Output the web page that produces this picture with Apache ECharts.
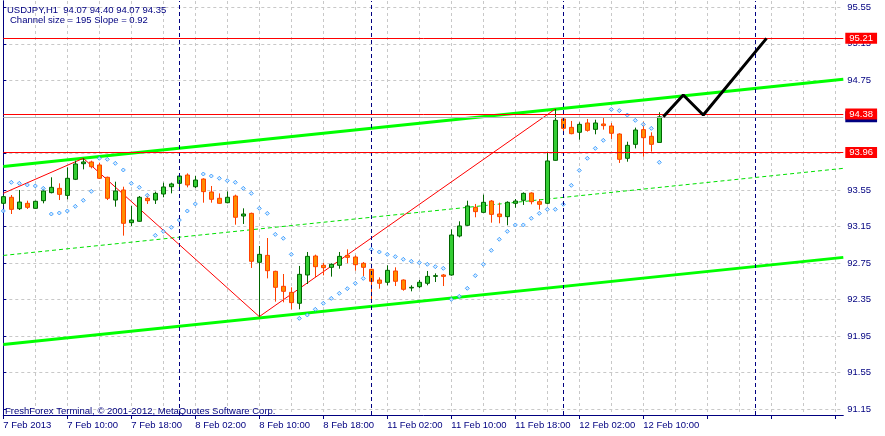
<!DOCTYPE html>
<html>
<head>
<meta charset="utf-8">
<script src="https://cdn.jsdelivr.net/npm/echarts@6/dist/echarts.min.js"></script>
<style>
  html, body { margin: 0; padding: 0; background: #fff; }
  #chart { width: 885px; height: 436px; }
</style>
</head>
<body>
<div id="chart"></div>
<script>
// USDJPY H1 bars, 7 Feb 02:00 .. 12 Feb 12:00
var opens = [93.403,93.469,93.344,93.403,93.348,93.432,93.520,93.567,93.490,93.666,93.837,93.856,93.823,93.688,93.439,93.549,93.191,93.206,93.458,93.439,93.505,93.585,
  93.622,93.713,93.585,93.669,93.527,93.458,93.410,93.483,93.264,93.293,92.757,92.833,92.658,92.494,92.428,92.308,92.618,92.826,92.724,92.702,92.724,
  92.833,92.815,92.746,92.680,92.563,92.538,92.662,92.563,92.476,92.490,92.527,92.603,92.618,92.618,93.045,93.162,93.359,93.304,93.428,93.286,93.257,
  93.403,93.436,93.516,93.421,93.403,93.874,94.327,94.235,94.181,94.283,94.213,94.272,94.250,94.162,93.896,94.049,94.210,94.137,94.07];
var closes = [93.476,93.337,93.417,93.359,93.425,93.538,93.578,93.501,93.677,93.834,93.856,93.804,93.677,93.458,93.538,93.184,93.220,93.469,93.432,93.512,93.582,93.615,
  93.702,93.604,93.658,93.531,93.447,93.403,93.469,93.250,93.286,92.768,92.844,92.665,92.483,92.439,92.315,92.625,92.822,92.709,92.698,92.735,92.822,
  92.811,92.731,92.702,92.549,92.527,92.669,92.549,92.461,92.483,92.538,92.603,92.611,92.603,93.056,93.155,93.374,93.312,93.414,93.282,93.257,93.414,
  93.428,93.512,93.421,93.392,93.867,94.312,94.224,94.166,94.268,94.202,94.283,94.254,94.170,93.885,94.038,94.206,94.122,94.049,94.35];
var lows = [93.385,93.286,93.330,93.341,93.344,93.403,93.512,93.439,93.447,93.658,93.775,93.786,93.669,93.439,93.366,93.049,93.155,93.202,93.396,93.396,93.469,93.512,
  93.542,93.578,93.571,93.410,93.410,93.399,93.403,93.169,93.177,92.695,92.162,92.581,92.326,92.319,92.242,92.242,92.519,92.592,92.614,92.600,92.687,
  92.746,92.665,92.607,92.351,92.468,92.505,92.497,92.446,92.439,92.472,92.505,92.541,92.497,92.610,93.030,93.155,93.250,93.301,93.191,93.184,93.162,
  93.355,93.385,93.392,93.334,93.392,93.870,94.159,94.159,94.100,94.188,94.159,94.210,94.108,93.845,93.859,94.005,93.914,93.969,94.07];
var highs = [93.494,93.494,93.549,93.432,93.432,93.567,93.688,93.622,93.797,93.870,93.896,93.870,93.848,93.695,93.640,93.585,93.374,93.483,93.505,93.531,93.629,93.629,
  93.731,93.731,93.702,93.677,93.593,93.512,93.534,93.498,93.348,93.301,92.936,93.023,92.665,92.629,92.483,92.717,92.870,92.841,92.753,92.746,92.870,
  92.899,92.833,92.760,92.687,92.592,92.724,92.702,92.570,92.505,92.563,92.662,92.636,92.629,93.118,93.206,93.432,93.396,93.498,93.439,93.410,93.425,
  93.450,93.523,93.523,93.450,93.961,94.436,94.341,94.305,94.290,94.327,94.319,94.348,94.283,94.170,94.078,94.232,94.297,94.181,94.40];
// parabolic SAR
var sar = [93.319,93.633,93.622,93.604,93.593,93.567,93.286,93.297,93.319,93.370,93.436,93.534,93.896,93.885,93.841,93.768,93.622,93.578,93.491,93.052,93.096,93.140,
  93.220,93.319,93.396,93.724,93.702,93.677,93.651,93.633,93.567,93.512,93.348,93.293,93.063,93.020,92.844,92.143,92.180,92.242,92.308,92.362,92.417,
  92.468,92.527,92.581,92.899,92.870,92.844,92.819,92.790,92.768,92.753,92.735,92.709,92.691,92.351,92.384,92.472,92.611,92.735,92.888,93.009,93.096,
  93.166,93.166,93.239,93.293,93.337,93.337,93.392,93.600,93.764,93.896,94.005,94.093,94.432,94.418,94.370,94.312,94.268,94.224,93.852];

var dayNames = ['7 Feb', '8 Feb', '11 Feb', '12 Feb', '13 Feb'];
var firstHour = 2;
var slotCount = 106; // bars + empty future area
var yTicks = [91.15, 91.55, 91.95, 92.35, 92.75, 93.15, 93.55, 93.95, 94.35, 94.75, 95.15, 95.55];

// regression channel [bar, price]
var channelUpper = [[0, 93.806], [105, 94.761]];
var channelMiddle = [[0, 92.832], [105, 93.786]];
var channelLower = [[0, 91.857], [105, 92.811]];
var zigzag = [[0, 93.513], [10, 93.896], [32, 92.162], [69, 94.436]];
var forecast = [[82.5, 94.35], [85, 94.59], [87.5, 94.37], [95.4, 95.21]];
var levels = [95.21, 94.38, 93.96];
var bidPrice = 94.35;

var NAVY = '#000080';
var FONT = 'Liberation Sans';

// categories by hour
var categories = [];
var d = 0, h = firstHour;
for (var i = 0; i < slotCount; i++) {
  categories.push(dayNames[d] + ' ' + (h < 10 ? '0' + h : h) + ':00');
  h++;
  if (h === 24) { h = 0; d++; }
}
var daySeps = [];
categories.forEach(function (c, idx) { if (/ 00:00$/.test(c)) daySeps.push(idx); });

var candles = opens.map(function (o, k) { return [o, closes[k], lows[k], highs[k]]; });

var txt = { color: NAVY, fontSize: 9.5, fontWeight: 'normal', fontFamily: FONT };

var chart = echarts.init(document.getElementById('chart'));
chart.setOption({
  animation: false,
  backgroundColor: '#ffffff',
  textStyle: { fontFamily: FONT },
  title: [
    { text: 'USDJPY,H1  94.07 94.40 94.07 94.35', left: 7, top: 5, padding: 0, textStyle: txt },
    { text: 'Channel size = 195 Slope = 0.92', left: 10, top: 15, padding: 0, textStyle: txt },
    { text: 'FreshForex Terminal, \u00a9 2001-2012, MetaQuotes Software Corp.', left: 5, top: 406, padding: 0, textStyle: txt }
  ],
  grid: { left: 3.3, right: 41.7, top: 1, bottom: 21 },
  xAxis: [
    {
      type: 'category', data: categories, boundaryGap: false,
      axisLine: { lineStyle: { color: NAVY, width: 1 } },
      axisTick: { interval: 7, length: 4, lineStyle: { color: NAVY } },
      axisLabel: {
        interval: 7, align: 'left', margin: 5, color: NAVY, fontSize: 9.5, fontFamily: FONT,
        formatter: function (v, idx) { return idx === 0 ? '7 Feb 2013' : (idx < opens.length ? v : ''); }
      },
      splitLine: { show: true, interval: 3, lineStyle: { color: '#c8c8c8', type: [3, 3] } }
    },
    { type: 'value', min: 0, max: slotCount - 1, show: false }
  ],
  yAxis: [
    {
      type: 'value', position: 'right', min: 91.0845, max: 95.619, scale: true,
      axisLine: { show: true, lineStyle: { color: NAVY } },
      axisTick: { show: true, length: 3, customValues: yTicks, lineStyle: { color: NAVY } },
      axisLabel: { customValues: yTicks, margin: 4, color: NAVY, fontSize: 9.5, fontFamily: FONT,
        formatter: function (v) { return v.toFixed(2); } },
      splitLine: { show: true, lineStyle: { color: '#c8c8c8', type: [3, 3] } }
    },
    {
      type: 'value', position: 'left', min: 91.0845, max: 95.619,
      axisLine: { show: true, lineStyle: { color: NAVY } },
      axisTick: { show: false }, axisLabel: { show: false }, splitLine: { show: false }
    }
  ],
  series: [
    {
      type: 'line', xAxisIndex: 1, data: channelMiddle, symbol: 'none', z: 1,
      lineStyle: { color: '#00e000', width: 1, type: [4, 3] },
      markLine: {
        silent: true, symbol: 'none', label: { show: false },
        lineStyle: { color: NAVY, width: 1, type: [4, 3] },
        data: daySeps.map(function (s) { return { xAxis: s }; })
      }
    },
    { type: 'line', xAxisIndex: 1, data: channelUpper, symbol: 'none', z: 1,
      lineStyle: { color: '#00ff00', width: 3 } },
    { type: 'line', xAxisIndex: 1, data: channelLower, symbol: 'none', z: 1,
      lineStyle: { color: '#00ff00', width: 3 } },
    { type: 'line', xAxisIndex: 1, data: zigzag, symbol: 'none', z: 2,
      lineStyle: { color: '#ff0000', width: 1 } },
    {
      type: 'candlestick', data: candles, barWidth: 5, z: 3,
      itemStyle: { color: '#33cc33', borderColor: '#006600', color0: '#ff8c00', borderColor0: '#ff4000', borderWidth: 1 },
      markLine: {
        silent: true, symbol: 'none',
        data: [{ yAxis: bidPrice, lineStyle: { color: '#b4b4b4', width: 1, type: 'solid' },
                 label: { backgroundColor: NAVY } }].concat(
          levels.map(function (v) { return { yAxis: v, lineStyle: { color: '#ff0000', width: 1, type: 'solid' },
                 label: { backgroundColor: '#ff0000' } }; })),
        label: {
          position: 'end', distance: 2, color: '#ffffff', fontSize: 9.5, fontFamily: FONT,
          padding: [1, 4, 0, 4], formatter: function (p) { return p.value.toFixed(2); }
        }
      }
    },
    { type: 'scatter', data: sar, symbol: 'diamond', symbolSize: 4, z: 4,
      itemStyle: { color: '#cfe6ff', borderColor: '#1e90ff', borderWidth: 1 } },
    { type: 'line', xAxisIndex: 1, data: forecast, symbol: 'none', z: 5,
      lineStyle: { color: '#000000', width: 3 } }
  ]
});
</script>
</body>
</html>
